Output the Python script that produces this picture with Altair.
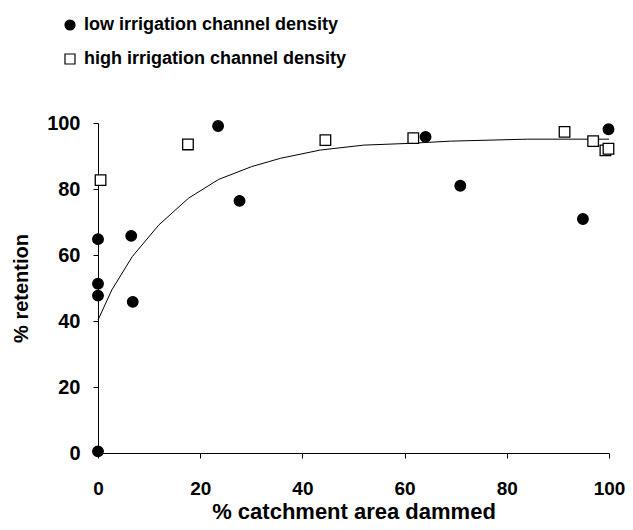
import altair as alt
import pandas as pd

low_x = [0, 0, 0, 0, 6.5, 6.8, 23.5, 27.7, 64.1, 70.9, 94.9, 99.9]
low_y = [0.5, 47.7, 51.3, 64.8, 65.8, 45.8, 99.1, 76.4, 95.8, 81.0, 70.9, 98.1]
high_x = [0.5, 17.6, 44.5, 61.7, 91.3, 96.9, 99.3, 99.9]
high_y = [82.7, 93.5, 94.8, 95.4, 97.3, 94.5, 91.7, 92.2]
curve_x = [0, 2.7, 6.7, 11.9, 17.7, 23.6, 30.1, 35.7, 43.5, 52, 60.5, 69, 84, 100]
curve_y = [40.3, 49.4, 59.5, 69.1, 77.2, 82.9, 86.8, 89.3, 91.8, 93.3, 93.8, 94.5, 95.1, 95.1]
series = ["low irrigation channel density", "high irrigation channel density"]
ticks = [0, 20, 40, 60, 80, 100]

pts = pd.DataFrame(
    {"x": low_x + high_x, "y": low_y + high_y,
     "s": [series[0]] * len(low_x) + [series[1]] * len(high_x)}
)
crv = pd.DataFrame({"x": curve_x, "y": curve_y})

FONT = "Liberation Sans"

xs = alt.Scale(domain=[0, 100], nice=False)
ys = alt.Scale(domain=[0, 100], nice=False)

xax = alt.Axis(values=ticks, title="% catchment area dammed", labelPadding=21,
               titlePadding=3, labelFlush=False, titleFontSize=22, labelFontSize=19)
yax = alt.Axis(values=ticks, title="% retention", labelPadding=13, titlePadding=15,
               labelFlush=False, titleFontSize=20, labelFontSize=20)

leg = alt.Legend(title=None, orient="none", legendX=-37, legendY=-107,
                 rowPadding=16, labelOffset=5, symbolSize=100,
                 symbolStrokeWidth=1.2, padding=0)

line = alt.Chart(crv).mark_line(color="black", strokeWidth=1).encode(
    x=alt.X("x:Q", scale=xs, axis=xax),
    y=alt.Y("y:Q", scale=ys, axis=yax),
)

points = alt.Chart(pts).mark_point(opacity=1, strokeWidth=1.3,
                                   size=112, clip=False).encode(
    x=alt.X("x:Q", scale=xs),
    y=alt.Y("y:Q", scale=ys),
    shape=alt.Shape("s:N", scale=alt.Scale(domain=series, range=["circle", "square"]),
                    legend=leg),
    fill=alt.Fill("s:N", scale=alt.Scale(domain=series, range=["black", "white"]),
                  legend=leg),
    stroke=alt.Stroke("s:N", scale=alt.Scale(domain=series, range=["black", "black"]),
                      legend=leg),
)

chart = alt.layer(line, points).properties(
    width=511, height=330,
    autosize=alt.AutoSizeParams(type="none"),
    padding={"left": 90, "top": 115, "right": 16, "bottom": 69},
).configure_view(stroke=None).configure_axis(
    grid=False, domainColor="black", tickColor="black", tickSize=5,
    labelFont=FONT, labelFontWeight="bold", labelColor="black",
    titleFont=FONT, titleFontWeight="bold", titleColor="black",
).configure_legend(
    labelFont=FONT, labelFontSize=18, labelFontWeight="bold", labelColor="black",
    labelLimit=0,
)

chart.save("out.html", embed_options={"renderer": "svg", "actions": False})
